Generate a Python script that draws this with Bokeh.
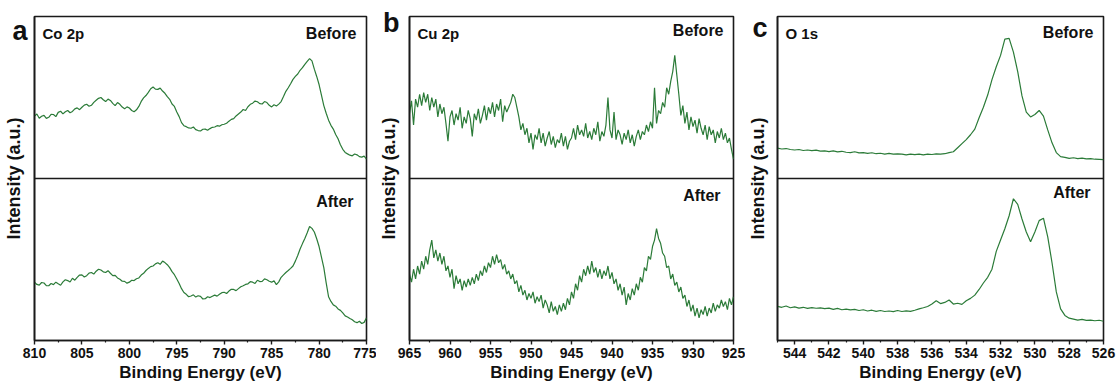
import numpy as np
from bokeh.plotting import figure
from bokeh.models import Range1d, FixedTicker, Span, Label
from bokeh.layouts import row
from bokeh.embed import file_html
from bokeh.resources import INLINE

# ---------------- data ----------------
co_start, co_step = 810.0, 0.25
co_before = [38.5, 39.8, 37.2, 38.4, 39.0, 37.1, 37.8, 39.6,
             39.5, 38.2, 40.8, 41.5, 39.9, 41.2, 42.0, 40.6,
             41.4, 43.0, 43.6, 42.5, 44.0, 45.3, 45.8, 44.6,
             45.2, 47.0, 48.3, 49.5, 50.0, 48.6, 47.5, 49.0,
             48.2, 46.4, 45.0, 46.9, 45.8, 44.1, 43.0, 44.2,
             43.5, 42.0, 41.2, 42.4, 44.5, 47.6, 49.8, 51.2,
             53.2, 55.4, 56.5, 55.2, 55.0, 55.8, 54.0, 52.6,
             50.5, 48.9, 46.0, 44.5, 41.0, 38.2, 34.5, 32.6,
             32.0, 31.2, 31.0, 31.8, 30.2, 29.6, 29.3, 30.4,
             30.5, 29.8, 30.8, 31.6, 31.8, 32.6, 32.3, 33.2,
             33.5, 34.1, 35.4, 36.5, 37.0, 38.6, 39.8, 41.0,
             42.6, 42.0, 44.3, 45.8, 46.5, 47.8, 47.4, 46.2,
             46.0, 47.5, 46.9, 45.2, 44.2, 45.5, 44.8, 45.9,
             47.5, 50.6, 53.8, 56.0, 58.5, 61.2, 63.0, 64.5,
             66.8, 68.4, 70.5, 72.3, 74.0, 72.6, 67.5, 63.0,
             58.0, 51.5, 45.0, 40.3, 36.0, 32.8, 30.5, 27.2,
             24.5, 20.8, 18.0, 16.1, 15.2, 14.4, 14.0, 15.1,
             14.6, 13.5, 13.2, 13.8, 12.0]
co_after = [36.0, 34.6, 34.2, 35.8, 35.5, 33.9, 33.8, 35.2,
            34.5, 36.0, 35.0, 34.1, 36.2, 37.5, 37.0, 36.1,
            38.4, 37.2, 39.0, 40.4, 40.5, 39.2, 40.0, 41.6,
            42.0, 41.0, 42.8, 44.0, 43.5, 42.4, 42.0, 43.1,
            41.5, 40.0, 40.2, 38.6, 37.8, 36.6, 36.5, 35.4,
            36.0, 37.2, 37.0, 38.1, 38.6, 40.4, 41.5, 43.2,
            44.5, 45.6, 46.0, 47.3, 48.0, 47.0, 49.0, 48.1,
            46.8, 45.0, 42.5, 40.6, 38.0, 35.2, 32.0, 29.6,
            28.5, 27.0, 27.5, 28.2, 26.8, 27.6, 27.2, 25.6,
            25.8, 27.0, 26.5, 27.3, 28.0, 27.4, 28.5, 29.5,
            29.8, 29.0, 30.5, 31.6, 31.5, 30.8, 32.0, 33.2,
            33.8, 34.6, 35.0, 36.3, 36.0, 35.2, 37.2, 36.4,
            36.5, 38.0, 37.5, 36.6, 36.0, 36.8, 34.5, 36.2,
            39.0, 40.5, 42.0, 43.2, 44.5, 46.0, 49.0, 52.5,
            56.5, 59.8, 63.0, 66.5, 70.4, 69.2, 67.0, 62.8,
            58.0, 51.5, 45.0, 35.6, 27.0, 24.1, 22.0, 21.2,
            19.5, 18.6, 17.0, 15.2, 14.5, 13.6, 12.8, 11.6,
            11.0, 11.9, 10.5, 11.2, 14.0]

cu_start, cu_step = 965.0, 0.25
cu_before = [40, 48, 33, 49, 44, 52, 45, 53,
             47, 52, 42, 50, 44, 49, 38, 46,
             40, 44, 34, 23, 38, 42, 33, 40,
             36, 44, 31, 38, 34, 42, 37, 26,
             40, 36, 43, 34, 39, 45, 36, 44,
             40, 47, 38, 46, 42, 49, 35, 45,
             41, 44, 47, 52, 50, 44, 38, 30,
             34, 27, 31, 22, 28, 18, 27, 24,
             31, 22, 28, 20, 25, 29, 21, 26,
             19, 24, 22, 28, 20, 26, 18, 23,
             25, 31, 24, 33, 27, 30, 26, 34,
             25, 29, 24, 31, 27, 35, 23, 29,
             26, 33, 50, 30, 25, 41, 24, 30,
             27, 21, 28, 24, 30, 22, 27, 20,
             26, 30, 24, 29, 27, 33, 29, 35,
             31, 56, 34, 42, 40, 47, 44, 56,
             52, 60, 66, 76, 64, 52, 39, 45,
             34, 41, 30, 38, 32, 36, 28, 37,
             31, 27, 33, 24, 32, 27, 30, 22,
             29, 25, 31, 24, 28, 22, 25, 18,
             12]
cu_after = [41, 36, 44, 38, 46, 41, 49, 44,
            52, 47, 56, 62, 51, 56, 49, 54,
            47, 52, 43, 46, 39, 44, 32, 40,
            35, 38, 31, 37, 33, 38, 34, 39,
            35, 41, 37, 43, 40, 46, 42, 48,
            45, 52, 47, 53, 48, 50, 44, 47,
            41, 43, 38, 41, 35, 37, 30, 34,
            28, 31, 25, 29, 26, 30, 23, 27,
            24, 28, 20, 25, 22, 17, 24, 18,
            21, 16, 22, 18, 23, 19, 26, 22,
            30, 26, 35, 31, 40, 36, 44, 40,
            46, 41, 49, 42, 45, 39, 44, 38,
            43, 40, 46, 38, 42, 35, 38, 31,
            35, 28, 33, 22, 29, 25, 32, 28,
            35, 31, 39, 36, 45, 43, 52, 50,
            58, 62, 69, 63, 60, 54, 52, 45,
            46, 38, 41, 34, 36, 30, 33, 26,
            28, 21, 25, 18, 22, 15, 20, 14,
            19, 16, 21, 15, 20, 17, 23, 18,
            22, 20, 25, 21, 24, 19, 26, 22,
            27]

o_start, o_step = 545.0, 0.25
o_before = [18.8, 18.2, 18.5, 17.9, 17.6, 17.9, 17.3, 17.6,
            17.2, 17.5, 16.9, 17.0, 16.6, 17.0, 16.4, 16.8,
            16.2, 16.0, 16.5, 15.8, 16.0, 15.5, 15.9, 15.3,
            15.6, 15.1, 15.5, 15.0, 15.2, 15.0, 14.6, 15.0,
            14.7, 15.1, 14.6, 15.0, 14.8, 15.2, 15.0, 15.3,
            16.0, 16.5, 19.0, 21.5, 24.0, 27.0, 30.5, 37.5,
            44.0, 51.5, 61.0, 69.0, 76.0, 86.0, 86.5, 78.0,
            66.0, 51.0, 41.0, 38.0, 39.5, 42.0, 38.5, 30.0,
            22.0, 16.0, 13.5, 13.0, 12.4, 12.8, 12.3, 12.6,
            12.1, 12.3, 11.9, 11.8, 11.6]
o_after = [21.1, 20.5, 21.3, 20.2, 20.8, 20.0, 20.5, 19.8,
           20.3, 19.9, 20.1, 19.7, 20.0, 19.2, 19.8, 19.0,
           19.4, 18.9, 19.2, 18.5, 19.0, 18.2, 18.7, 18.0,
           18.5, 17.9, 18.2, 17.8, 18.5, 17.9, 18.3, 18.0,
           18.7, 19.5, 20.2, 21.0, 22.5, 24.5, 22.8, 23.5,
           25.0, 22.5, 23.0, 22.3, 24.5, 26.0, 28.0, 31.5,
           35.5, 39.0, 44.0, 55.0, 62.0, 69.0, 77.0, 87.5,
           84.0, 75.0, 67.0, 61.0, 67.0, 74.0, 75.5, 64.0,
           48.0, 30.0, 19.5, 15.5, 13.8, 13.2, 12.6, 13.0,
           12.4, 12.6, 12.2, 12.5, 11.9]

co_ticks = [810, 805, 800, 795, 790, 785, 780, 775]
co_minor = [807.5, 802.5, 797.5, 792.5, 787.5, 782.5, 777.5]
cu_ticks = [965, 960, 955, 950, 945, 940, 935, 930, 925]
cu_minor = [962.5, 957.5, 952.5, 947.5, 942.5, 937.5, 932.5, 927.5]
o_ticks = [544, 542, 540, 538, 536, 534, 532, 530, 528, 526]
o_minor = [545, 543, 541, 539, 537, 535, 533, 531, 529, 527]

panel_letters = ["a", "b", "c"]
species = ["Co 2p", "Cu 2p", "O 1s"]
state_labels = ["Before", "After"]
x_title = "Binding Energy (eV)"
y_title = "Intensity (a.u.)"

# ---------------- style ----------------
FONT = "Liberation Sans"
GREEN = "#2b7b38"
FRAME = "#1a1a1a"
TXT = "#111111"


def make_panel(letter, name, start, step, before, after, x_lo, x_hi,
               ticks, minor, width, bl, br, letter_pos, letter_standoff,
               title_standoff, before_y, after_y):
    p = figure(width=width, height=385, output_backend="svg",
               toolbar_location=None, x_range=Range1d(x_lo, x_hi),
               y_range=Range1d(0, 1), min_border_left=bl,
               min_border_right=br, min_border_top=16, min_border_bottom=45)
    p.xgrid.visible = False
    p.ygrid.visible = False
    p.outline_line_color = FRAME
    p.outline_line_width = 1.6
    p.background_fill_color = "white"
    p.border_fill_color = "white"

    p.extra_y_ranges = {"top": Range1d(-100, 100), "bot": Range1d(0, 200)}
    xb = start - step * np.arange(len(before))
    xa = start - step * np.arange(len(after))
    p.line(xb, before, y_range_name="top", line_color=GREEN, line_width=1.2)
    p.line(xa, after, y_range_name="bot", line_color=GREEN, line_width=1.2)

    p.add_layout(Span(location=0.5, dimension="width", line_color=FRAME,
                      line_width=1.6))

    xa_ = p.xaxis[0]
    xa_.ticker = FixedTicker(ticks=ticks, minor_ticks=minor)
    xa_.axis_label = x_title
    xa_.axis_label_text_font = FONT
    xa_.axis_label_text_font_style = "bold"
    xa_.axis_label_text_font_size = "17px"
    xa_.axis_label_standoff = 2
    xa_.major_label_text_font = FONT
    xa_.major_label_text_font_style = "bold"
    xa_.major_label_text_font_size = "14px"
    xa_.major_label_standoff = 3
    xa_.major_tick_out = 4
    xa_.major_tick_in = 0
    xa_.minor_tick_out = 2
    xa_.minor_tick_in = 0
    xa_.axis_line_color = FRAME
    xa_.axis_line_width = 1.6
    xa_.major_tick_line_color = FRAME
    xa_.major_tick_line_width = 1.4
    xa_.minor_tick_line_color = FRAME
    xa_.minor_tick_line_width = 1.2
    xa_.major_label_text_color = TXT
    xa_.axis_label_text_color = TXT

    # left axis: carries the panel letter (as its single tick label)
    # and the y title
    ya = p.yaxis[0]
    ya.ticker = FixedTicker(ticks=[letter_pos])
    ya.major_label_overrides = {letter_pos: letter}
    ya.major_label_text_font = FONT
    ya.major_label_text_font_style = "bold"
    ya.major_label_text_font_size = "27px"
    ya.major_label_text_color = TXT
    ya.major_label_standoff = letter_standoff
    ya.major_tick_line_color = None
    ya.major_tick_out = 0
    ya.major_tick_in = 0
    ya.minor_tick_out = 0
    ya.minor_tick_in = 0
    ya.axis_line_color = FRAME
    ya.axis_line_width = 1.6
    ya.axis_label = y_title
    ya.axis_label_text_font = FONT
    ya.axis_label_text_font_style = "bold"
    ya.axis_label_text_font_size = "18px"
    ya.axis_label_text_color = TXT
    ya.axis_label_standoff = title_standoff

    p.add_layout(Label(x=x_lo, y=0.946, x_offset=8, text=name,
                       text_font=FONT, text_font_style="bold",
                       text_font_size="15px", text_align="left",
                       text_baseline="alphabetic", text_color=TXT))
    p.add_layout(Label(x=x_hi, y=before_y, x_offset=-10, text=state_labels[0],
                       text_font=FONT, text_font_style="bold",
                       text_font_size="16px", text_align="right",
                       text_baseline="alphabetic", text_color=TXT))
    p.add_layout(Label(x=x_hi, y=after_y, x_offset=-13, text=state_labels[1],
                       text_font=FONT, text_font_style="bold",
                       text_font_size="16px", text_align="right",
                       text_baseline="alphabetic", text_color=TXT))
    return p


pa = make_panel(panel_letters[0], species[0], co_start, co_step, co_before,
                co_after, 810, 775, co_ticks, co_minor, 376, 34, 10,
                0.955, 7, -15, 0.948, 0.430)
pb = make_panel(panel_letters[1], species[1], cu_start, cu_step, cu_before,
                cu_after, 965, 925, cu_ticks, cu_minor, 369, 27, 12,
                0.980, 10, -19, 0.957, 0.446)
pc = make_panel(panel_letters[2], species[2], o_start, o_step, o_before,
                o_after, 545, 526, o_ticks, o_minor, 375, 27, 17,
                0.964, 10, -19, 0.951, 0.456)

layout = row(pa, pb, pc, spacing=0)
open("out.html", "w").write(file_html(layout, INLINE))
